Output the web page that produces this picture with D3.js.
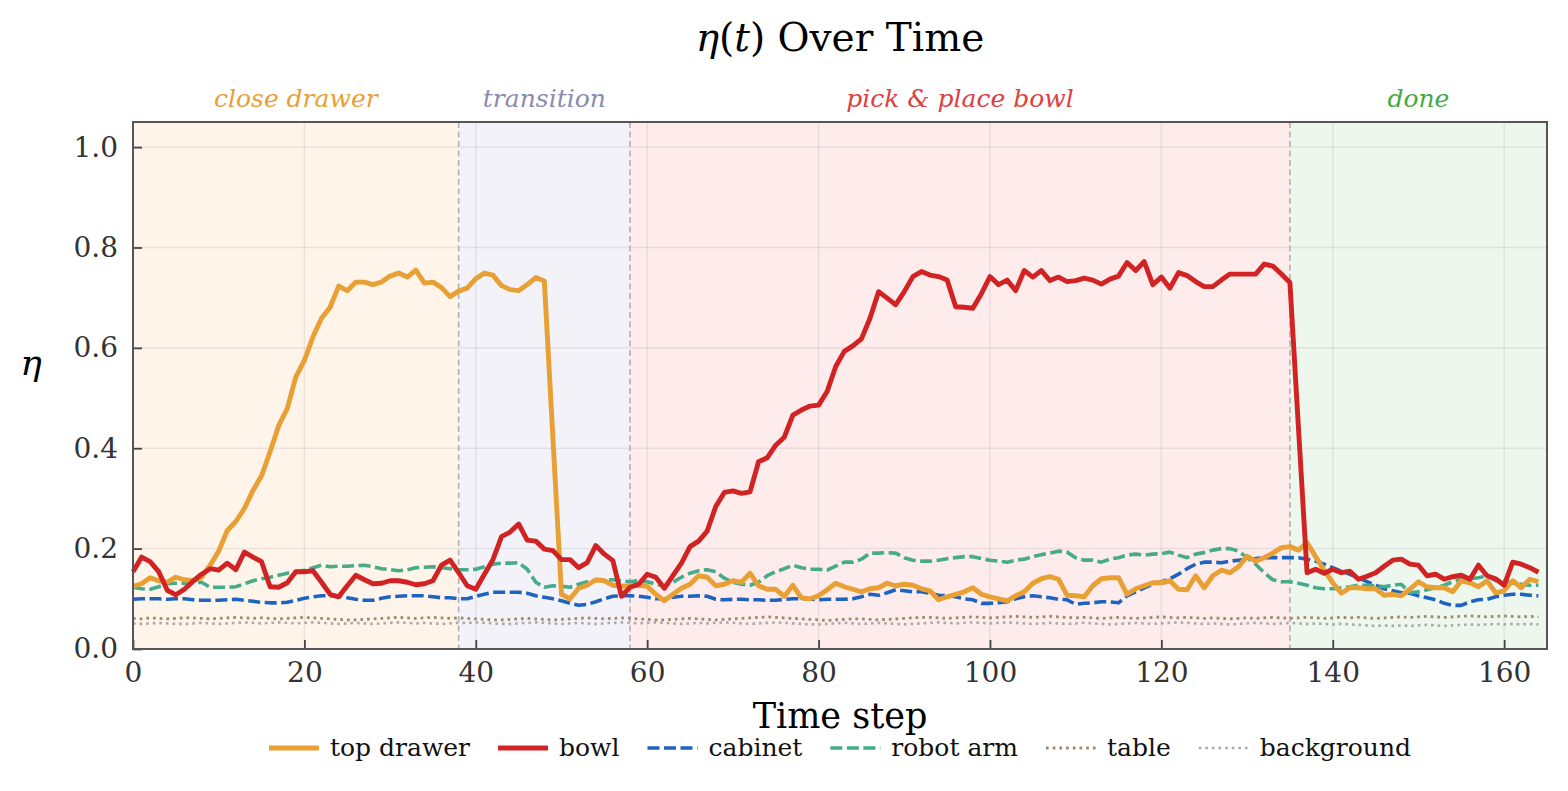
<!DOCTYPE html>
<html>
<head>
<meta charset="utf-8">
<script src="https://cdn.jsdelivr.net/npm/d3@7"></script>
<style>
  body { margin: 0; background: #fff; }
  text { font-family: "DejaVu Serif", serif; }
</style>
</head>
<body>
<div id="chart"></div>
<script>
// Width and height
var w = 1568;
var h = 791;
var margin = {top: 122, right: 21, bottom: 142, left: 133};

// phases (start, end, label)
var phaseNames = ["close drawer", "transition", "pick & place bowl", "done"];
var phaseStart = [0, 38, 58, 135];
var phaseEnd = [38, 58, 135, 165];
var phaseFill = ["#fef4ea", "#f3f2f8", "#feecec", "#eef7ee"];
var phaseText = ["#e8a035", "#8b8bad", "#dd4040", "#44aa44"];

var xTicks = [0, 20, 40, 60, 80, 100, 120, 140, 160];
var yTicks = [0, 0.2, 0.4, 0.6, 0.8, 1.0];

// series values, one per time step 0..164
var topDrawer = [
  0.125,0.130,0.142,0.136,0.133,0.143,0.138,0.136,0.143,0.167,
  0.195,0.236,0.254,0.280,0.316,0.345,0.393,0.445,0.479,0.542,
  0.575,0.622,0.659,0.681,0.723,0.714,0.731,0.731,0.726,0.731,
  0.743,0.749,0.741,0.755,0.729,0.731,0.720,0.702,0.713,0.719,
  0.738,0.749,0.745,0.724,0.716,0.714,0.726,0.740,0.733,0.420,
  0.109,0.100,0.121,0.127,0.138,0.136,0.127,0.125,0.126,0.127,
  0.125,0.109,0.096,0.109,0.121,0.129,0.146,0.143,0.126,0.129,
  0.136,0.133,0.151,0.126,0.119,0.119,0.105,0.127,0.102,0.100,
  0.106,0.118,0.131,0.124,0.119,0.114,0.120,0.122,0.131,0.126,
  0.129,0.127,0.120,0.116,0.098,0.104,0.109,0.114,0.122,0.109,
  0.104,0.100,0.096,0.106,0.114,0.131,0.140,0.144,0.139,0.107,
  0.106,0.104,0.126,0.140,0.142,0.142,0.109,0.120,0.126,0.132,
  0.132,0.136,0.119,0.118,0.146,0.122,0.146,0.157,0.152,0.164,
  0.185,0.175,0.182,0.191,0.202,0.204,0.197,0.212,0.184,0.157,
  0.132,0.111,0.122,0.122,0.120,0.120,0.107,0.109,0.106,0.119,
  0.134,0.124,0.122,0.122,0.114,0.136,0.132,0.124,0.136,0.112,
  0.116,0.136,0.122,0.139,0.134
];
var bowl = [
  0.154,0.183,0.174,0.154,0.117,0.108,0.119,0.135,0.149,0.160,
  0.157,0.171,0.158,0.193,0.183,0.174,0.124,0.123,0.132,0.154,
  0.154,0.156,0.133,0.109,0.104,0.126,0.147,0.138,0.130,0.131,
  0.136,0.136,0.133,0.128,0.130,0.136,0.167,0.177,0.152,0.126,
  0.119,0.149,0.178,0.224,0.233,0.249,0.217,0.215,0.199,0.196,
  0.178,0.178,0.162,0.172,0.206,0.189,0.176,0.105,0.123,0.129,
  0.149,0.143,0.121,0.146,0.171,0.204,0.215,0.235,0.284,0.312,
  0.315,0.310,0.313,0.373,0.381,0.406,0.422,0.466,0.476,0.484,
  0.486,0.513,0.563,0.593,0.604,0.618,0.659,0.712,0.699,0.686,
  0.712,0.742,0.752,0.745,0.742,0.735,0.682,0.681,0.679,0.708,
  0.742,0.726,0.735,0.714,0.754,0.741,0.754,0.734,0.741,0.732,
  0.734,0.739,0.735,0.727,0.737,0.743,0.770,0.754,0.772,0.726,
  0.741,0.719,0.750,0.744,0.732,0.722,0.722,0.735,0.747,0.747,
  0.747,0.747,0.767,0.763,0.747,0.730,0.440,0.152,0.159,0.151,
  0.159,0.152,0.155,0.139,0.145,0.152,0.165,0.177,0.179,0.169,
  0.167,0.146,0.149,0.139,0.144,0.147,0.139,0.167,0.146,0.140,
  0.127,0.173,0.169,0.162,0.153
];
var cabinet = [
  0.099,0.100,0.100,0.100,0.099,0.100,0.100,0.098,0.097,0.097,
  0.097,0.098,0.099,0.097,0.095,0.093,0.092,0.092,0.093,0.097,
  0.101,0.104,0.106,0.106,0.106,0.102,0.099,0.097,0.097,0.101,
  0.104,0.105,0.106,0.106,0.106,0.104,0.102,0.102,0.100,0.100,
  0.105,0.109,0.113,0.113,0.113,0.113,0.111,0.106,0.103,0.100,
  0.096,0.091,0.087,0.089,0.094,0.100,0.105,0.106,0.106,0.105,
  0.103,0.100,0.100,0.103,0.105,0.105,0.106,0.105,0.099,0.098,
  0.099,0.099,0.098,0.098,0.097,0.097,0.099,0.100,0.100,0.100,
  0.098,0.099,0.099,0.099,0.100,0.104,0.109,0.107,0.112,0.118,
  0.116,0.114,0.114,0.111,0.107,0.106,0.104,0.100,0.098,0.091,
  0.091,0.092,0.094,0.100,0.104,0.106,0.104,0.102,0.099,0.098,
  0.089,0.091,0.092,0.094,0.094,0.092,0.106,0.114,0.122,0.129,
  0.134,0.140,0.149,0.160,0.169,0.173,0.173,0.172,0.175,0.177,
  0.179,0.180,0.182,0.182,0.182,0.182,0.182,0.179,0.175,0.169,
  0.162,0.155,0.149,0.142,0.134,0.127,0.120,0.116,0.112,0.111,
  0.106,0.102,0.098,0.091,0.087,0.087,0.094,0.098,0.099,0.104,
  0.107,0.109,0.109,0.107,0.106
];
var robotArm = [
  0.123,0.120,0.119,0.124,0.130,0.131,0.131,0.132,0.133,0.123,
  0.123,0.123,0.124,0.130,0.136,0.140,0.143,0.147,0.151,0.154,
  0.157,0.162,0.167,0.164,0.165,0.165,0.166,0.167,0.164,0.160,
  0.158,0.156,0.158,0.162,0.163,0.164,0.162,0.160,0.158,0.158,
  0.159,0.164,0.169,0.171,0.171,0.172,0.159,0.133,0.123,0.126,
  0.125,0.123,0.129,0.134,0.136,0.138,0.138,0.136,0.134,0.136,
  0.134,0.129,0.126,0.133,0.143,0.151,0.156,0.158,0.154,0.141,
  0.133,0.129,0.127,0.133,0.146,0.154,0.160,0.167,0.162,0.159,
  0.159,0.157,0.165,0.173,0.173,0.179,0.191,0.191,0.192,0.191,
  0.182,0.177,0.175,0.175,0.177,0.180,0.182,0.184,0.184,0.180,
  0.177,0.175,0.173,0.177,0.179,0.184,0.188,0.191,0.195,0.193,
  0.182,0.177,0.177,0.173,0.179,0.182,0.187,0.189,0.187,0.189,
  0.190,0.193,0.187,0.182,0.189,0.192,0.197,0.200,0.200,0.195,
  0.182,0.169,0.152,0.138,0.134,0.134,0.131,0.127,0.122,0.120,
  0.120,0.122,0.124,0.127,0.127,0.126,0.124,0.127,0.129,0.112,
  0.114,0.118,0.122,0.127,0.134,0.139,0.140,0.142,0.146,0.136,
  0.136,0.131,0.129,0.127,0.127
];
var table = [
  0.061,0.060,0.062,0.061,0.060,0.061,0.062,0.062,0.061,0.060,
  0.061,0.062,0.063,0.062,0.061,0.062,0.061,0.060,0.061,0.062,
  0.063,0.062,0.061,0.060,0.059,0.058,0.058,0.059,0.060,0.061,
  0.062,0.063,0.062,0.061,0.062,0.063,0.062,0.061,0.062,0.061,
  0.060,0.059,0.058,0.058,0.059,0.060,0.061,0.060,0.059,0.058,
  0.059,0.060,0.061,0.062,0.061,0.060,0.061,0.062,0.061,0.060,
  0.059,0.058,0.058,0.059,0.060,0.061,0.060,0.059,0.058,0.059,
  0.060,0.061,0.062,0.063,0.064,0.063,0.062,0.061,0.060,0.059,
  0.058,0.057,0.058,0.059,0.060,0.060,0.059,0.058,0.059,0.060,
  0.061,0.062,0.063,0.063,0.062,0.061,0.062,0.063,0.064,0.063,
  0.062,0.063,0.064,0.065,0.064,0.063,0.064,0.065,0.064,0.063,
  0.062,0.063,0.062,0.061,0.062,0.063,0.062,0.061,0.062,0.063,
  0.064,0.063,0.062,0.063,0.062,0.061,0.062,0.061,0.060,0.061,
  0.062,0.061,0.062,0.063,0.062,0.061,0.062,0.063,0.062,0.061,
  0.062,0.063,0.062,0.063,0.062,0.061,0.062,0.063,0.064,0.063,
  0.064,0.065,0.064,0.063,0.064,0.065,0.066,0.065,0.064,0.065,
  0.066,0.065,0.064,0.065,0.064
];
var background = [
  0.051,0.050,0.051,0.052,0.051,0.050,0.050,0.051,0.052,0.051,
  0.050,0.051,0.052,0.053,0.052,0.051,0.052,0.053,0.052,0.051,
  0.052,0.053,0.052,0.051,0.050,0.051,0.052,0.051,0.050,0.051,
  0.052,0.053,0.052,0.051,0.052,0.051,0.050,0.051,0.052,0.052,
  0.053,0.052,0.051,0.050,0.050,0.051,0.052,0.053,0.052,0.051,
  0.050,0.051,0.052,0.051,0.050,0.051,0.052,0.053,0.052,0.051,
  0.052,0.053,0.052,0.051,0.050,0.051,0.052,0.051,0.052,0.053,
  0.052,0.051,0.050,0.051,0.052,0.053,0.052,0.051,0.050,0.049,
  0.049,0.050,0.051,0.052,0.051,0.050,0.051,0.052,0.051,0.050,
  0.049,0.050,0.051,0.052,0.053,0.052,0.051,0.052,0.053,0.052,
  0.051,0.052,0.053,0.052,0.051,0.050,0.051,0.052,0.051,0.050,
  0.051,0.052,0.051,0.050,0.049,0.050,0.051,0.052,0.051,0.050,
  0.051,0.052,0.053,0.052,0.051,0.050,0.051,0.050,0.049,0.050,
  0.051,0.052,0.051,0.050,0.051,0.052,0.051,0.050,0.051,0.050,
  0.049,0.050,0.049,0.048,0.047,0.046,0.047,0.046,0.047,0.046,
  0.047,0.048,0.047,0.046,0.047,0.048,0.049,0.048,0.049,0.050,
  0.049,0.050,0.049,0.050,0.049
];

var seriesNames = ["top drawer", "bowl", "cabinet", "robot arm", "table", "background"];
var seriesValues = [topDrawer, bowl, cabinet, robotArm, table, background];
var seriesColor = ["#e8a035", "#d12323", "#1f63c1", "#46ab88", "#9e8a6c", "#aaaaaa"];
var seriesWidth = [4.9, 4.9, 3.6, 3.6, 2.8, 2.6];
var seriesDash = [null, null, "12,4.5", "12,4.5", "2.7,4", "2.6,4"];
// draw order: dotted first, solid lines on top
var drawOrder = [5, 4, 2, 3, 0, 1];

//Create SVG
var svg = d3.select("#chart")
  .append("svg")
  .attr("width", w)
  .attr("height", h)
  .style("background", "#fff");

var x = d3.scaleLinear()
  .domain([0, 165])
  .range([margin.left, w - margin.right]);

var y = d3.scaleLinear()
  .domain([0, 1.05])
  .range([h - margin.bottom, margin.top]);

// phase shading
svg.selectAll("rect.phase")
  .data(phaseNames)
  .enter()
  .append("rect")
  .attr("class", "phase")
  .attr("x", function(d, i) { return x(phaseStart[i]); })
  .attr("y", margin.top)
  .attr("width", function(d, i) { return x(phaseEnd[i]) - x(phaseStart[i]); })
  .attr("height", h - margin.bottom - margin.top)
  .style("fill", function(d, i) { return phaseFill[i]; });

// grid
svg.append("g")
  .selectAll("line")
  .data(xTicks)
  .enter()
  .append("line")
  .attr("x1", function(d) { return x(d); })
  .attr("x2", function(d) { return x(d); })
  .attr("y1", margin.top)
  .attr("y2", h - margin.bottom)
  .style("stroke", "rgba(0,0,0,0.07)")
  .style("stroke-width", 1.5);

svg.append("g")
  .selectAll("line")
  .data(yTicks)
  .enter()
  .append("line")
  .attr("x1", margin.left)
  .attr("x2", w - margin.right)
  .attr("y1", function(d) { return y(d); })
  .attr("y2", function(d) { return y(d); })
  .style("stroke", "rgba(0,0,0,0.07)")
  .style("stroke-width", 1.5);

// phase boundaries
svg.append("g")
  .selectAll("line")
  .data(phaseStart.slice(1))
  .enter()
  .append("line")
  .attr("x1", function(d) { return x(d); })
  .attr("x2", function(d) { return x(d); })
  .attr("y1", margin.top)
  .attr("y2", h - margin.bottom)
  .style("stroke", "#b5b0ae")
  .style("stroke-width", 1.6)
  .style("stroke-dasharray", "6,3.5");

// phase labels
svg.selectAll("text.phase")
  .data(phaseNames)
  .enter()
  .append("text")
  .attr("class", "phase")
  .attr("x", function(d, i) { return x((phaseStart[i] + phaseEnd[i]) / 2); })
  .attr("y", 107)
  .attr("text-anchor", "middle")
  .style("font-size", "25px")
  .style("font-style", "italic")
  .style("fill", function(d, i) { return phaseText[i]; })
  .text(function(d) { return d; });

// lines
var line = d3.line()
  .x(function(d, i) { return x(i); })
  .y(function(d) { return y(d); });

svg.append("g")
  .selectAll("path")
  .data(drawOrder)
  .enter()
  .append("path")
  .attr("d", function(k) { return line(seriesValues[k]); })
  .style("fill", "none")
  .style("stroke", function(k) { return seriesColor[k]; })
  .style("stroke-width", function(k) { return seriesWidth[k]; })
  .style("stroke-dasharray", function(k) { return seriesDash[k]; })
  .style("stroke-linejoin", "round");

// axes (ticks point inward)
var xAxis = svg.append("g")
  .attr("transform", "translate(0," + (h - margin.bottom) + ")")
  .call(d3.axisBottom(x).tickValues(xTicks).tickSize(-9).tickPadding(13).tickFormat(d3.format("d")));

var yAxis = svg.append("g")
  .attr("transform", "translate(" + margin.left + ",0)")
  .call(d3.axisLeft(y).tickValues(yTicks).tickSize(-9).tickPadding(15).tickFormat(d3.format(".1f")));

[xAxis, yAxis].forEach(function(a) {
  a.select(".domain").remove();
  a.selectAll(".tick line").style("stroke", "#444").style("stroke-width", 1.8);
  a.selectAll(".tick text")
    .style("font-family", "'DejaVu Serif', serif")
    .style("font-size", "28px")
    .style("fill", "#333");
});

// frame
svg.append("rect")
  .attr("x", margin.left)
  .attr("y", margin.top)
  .attr("width", w - margin.left - margin.right)
  .attr("height", h - margin.top - margin.bottom)
  .style("fill", "none")
  .style("stroke", "#555")
  .style("stroke-width", 2);

// title
var title = svg.append("text")
  .attr("x", (margin.left + w - margin.right) / 2)
  .attr("y", 51)
  .attr("text-anchor", "middle")
  .style("font-size", "39px")
  .style("fill", "#000");
title.append("tspan").style("font-style", "italic").text("η");
title.append("tspan").text("(");
title.append("tspan").style("font-style", "italic").text("t");
title.append("tspan").text(") Over Time");

// axis labels
svg.append("text")
  .attr("x", (margin.left + w - margin.right) / 2)
  .attr("y", 728)
  .attr("text-anchor", "middle")
  .style("font-size", "35px")
  .style("fill", "#000")
  .text("Time step");

svg.append("text")
  .attr("x", 31)
  .attr("y", 375)
  .attr("text-anchor", "middle")
  .style("font-size", "36px")
  .style("font-style", "italic")
  .style("fill", "#000")
  .text("η");

// legend, centred under the plot
var legend = svg.append("g");
var items = legend.selectAll("g")
  .data(seriesNames)
  .enter()
  .append("g");

items.append("line")
  .attr("x1", 0)
  .attr("x2", 50)
  .attr("y1", 0)
  .attr("y2", 0)
  .style("stroke", function(d, i) { return seriesColor[i]; })
  .style("stroke-width", function(d, i) { return seriesWidth[i]; })
  .style("stroke-dasharray", function(d, i) { return seriesDash[i]; });

items.append("text")
  .attr("x", 61)
  .attr("y", 8)
  .style("font-size", "25px")
  .style("fill", "#111")
  .text(function(d) { return d; });

var pos = 0;
var offsets = [];
items.each(function() {
  offsets.push(pos);
  var tw = d3.select(this).select("text").node().getComputedTextLength();
  pos += 61 + tw + 28;
});
var total = pos - 28;
var startX = (margin.left + w - margin.right) / 2 - total / 2;
items.attr("transform", function(d, i) { return "translate(" + (startX + offsets[i]) + ",748)"; });
</script>
</body>
</html>
